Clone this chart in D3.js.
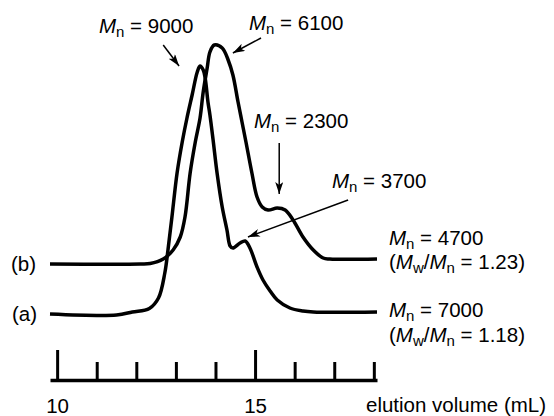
<!DOCTYPE html>
<html>
<head>
<meta charset="utf-8">
<script src="https://cdn.jsdelivr.net/npm/d3@7"></script>
<style>
  body { margin: 0; background: #fff; }
  svg { display: block; }
  text { font-family: "Liberation Sans", Arial, Helvetica, sans-serif; fill: #000; }
</style>
</head>
<body>
<svg></svg>
<script>
// elution volume (mL) vs detector signal (a.u., peak of (a) ~ 100)
const traceA = [
  [9.82, 0], [11.5, -0.4], [11.9, 0.8], [12.33, 2.2], [12.56, 6.4], [12.72, 16.4],
  [12.8, 25.6], [12.9, 38.8], [13.03, 56.4], [13.16, 68.8], [13.28, 78.4], [13.41, 87.6],
  [13.54, 96.8], [13.61, 99.2], [13.69, 97.6], [13.74, 94.4], [13.81, 84.8], [13.86, 79.6],
  [13.94, 69.6], [14.04, 56.4], [14.17, 42.8], [14.29, 33.6], [14.37, 27.2], [14.44, 26.4],
  [14.62, 28.4], [14.75, 29.2], [14.87, 26.4], [15.05, 18.8], [15.2, 13.6], [15.38, 9.2],
  [15.56, 5.6], [15.88, 2.4], [16.21, 1.2], [16.47, 0.8], [18.08, 0.8]
];
const traceB = [
  [9.82, 0], [12.1, 0], [12.35, 0.2], [12.68, 2], [12.93, 5.6], [13.11, 10.8],
  [13.23, 18.8], [13.36, 36.4], [13.49, 48.8], [13.61, 58.4], [13.69, 68.8], [13.79, 78.4],
  [13.86, 84.8], [13.97, 87.6], [14.17, 86.4], [14.32, 81.6], [14.44, 75.6], [14.57, 64.8],
  [14.67, 56.8], [14.77, 48.8], [14.92, 36.4], [15.05, 26.8], [15.18, 22.8], [15.33, 21.6],
  [15.56, 22.4], [15.76, 21.6], [15.96, 17.6], [16.21, 10.8], [16.47, 5.6], [16.72, 2.4],
  [16.89, 2], [18.08, 2]
];
const offsetA = 26.4;
const offsetB = 46.4;

const tickValues = [10, 11, 12, 13, 14, 15, 16, 17, 18];
const tickLabels = { 10: '10', 15: '15' };
const xTitle = 'elution volume (mL)';

// arrows: [tail mL, tail signal], [tip mL, tip signal] (signal incl. offsets)
const arrows = [
  { label: '9000', from: [12.68, 134], to: [13.08, 125.6] },
  { label: '6100', from: [15.15, 136.8], to: [14.44, 130.8] },
  { label: '2300', from: [15.61, 94.8], to: [15.61, 74.4] },
  { label: '3700', from: [17.35, 72], to: [14.82, 57.2] }
];

const width = 554;
const height = 416;
const fs = 20.5;

const svg = d3.select('svg')
  .attr('width', width)
  .attr('height', height);

const x = d3.scaleLinear().domain([9.82, 18.08]).range([50, 377]);
const y = d3.scaleLinear().domain([0, 152]).range([380, 0]);

svg.append('defs').append('marker')
  .attr('id', 'head')
  .attr('viewBox', '0 0 12 8')
  .attr('refX', 12)
  .attr('refY', 4)
  .attr('markerWidth', 12)
  .attr('markerHeight', 8)
  .attr('markerUnits', 'userSpaceOnUse')
  .attr('orient', 'auto')
  .append('path')
  .attr('d', 'M0,0 L12,4 L0,8 L3,4 Z')
  .attr('fill', '#000');

const line = (offset) => d3.line()
  .x(d => x(d[0]))
  .y(d => y(d[1] + offset))
  .curve(d3.curveCatmullRom.alpha(0.5));

svg.append('path')
  .datum(traceA)
  .attr('fill', 'none')
  .attr('stroke', '#000')
  .attr('stroke-width', 3.5)
  .attr('stroke-linejoin', 'round')
  .attr('d', line(offsetA));

svg.append('path')
  .datum(traceB)
  .attr('fill', 'none')
  .attr('stroke', '#000')
  .attr('stroke-width', 3.5)
  .attr('stroke-linejoin', 'round')
  .attr('d', line(offsetB));

// axis
const axis = svg.append('g')
  .attr('transform', `translate(0,${y(0)})`)
  .call(d3.axisBottom(x)
    .tickValues(tickValues)
    .tickSize(-18)
    .tickSizeOuter(0)
    .tickFormat(d => tickLabels[d] || ''));

axis.select('.domain').attr('stroke-width', 3.5);
axis.selectAll('.tick line')
  .attr('stroke-width', 3)
  .attr('y2', d => tickLabels[d] ? -30 : -18);
axis.selectAll('.tick text')
  .attr('y', 33)
  .attr('dy', 0)
  .attr('font-size', fs)
  .attr('font-family', null);

svg.append('text')
  .attr('x', 366)
  .attr('y', 412)
  .attr('font-size', fs)
  .text(xTitle);

// arrows
svg.selectAll('.arrow')
  .data(arrows)
  .enter().append('line')
  .attr('class', 'arrow')
  .attr('x1', d => x(d.from[0]))
  .attr('y1', d => y(d.from[1]))
  .attr('x2', d => x(d.to[0]))
  .attr('y2', d => y(d.to[1]))
  .attr('stroke', '#000')
  .attr('stroke-width', 1.5)
  .attr('marker-end', 'url(#head)');

function mn(sel, value) {
  sel.append('tspan').attr('font-style', 'italic').text('M');
  sel.append('tspan').attr('font-size', 15).attr('dy', 4).text('n');
  sel.append('tspan').attr('dy', -4).text(' = ' + value);
}

function ratio(sel, value) {
  sel.append('tspan').text('(');
  sel.append('tspan').attr('font-style', 'italic').text('M');
  sel.append('tspan').attr('font-size', 15).attr('dy', 4).text('w');
  sel.append('tspan').attr('dy', -4).text('/');
  sel.append('tspan').attr('font-style', 'italic').text('M');
  sel.append('tspan').attr('font-size', 15).attr('dy', 4).text('n');
  sel.append('tspan').attr('dy', -4).text(' = ' + value + ')');
}

const peakLabels = [
  { value: '9000', x: 99, y: 33 },
  { value: '6100', x: 249, y: 30 },
  { value: '2300', x: 254, y: 128 },
  { value: '3700', x: 332, y: 188 },
  { value: '4700', x: 389, y: 245 },
  { value: '7000', x: 389, y: 317 }
];

peakLabels.forEach(p => {
  svg.append('text')
    .attr('x', p.x)
    .attr('y', p.y)
    .attr('font-size', fs)
    .call(mn, p.value);
});

const ratios = [
  { value: '1.23', y: 269 },
  { value: '1.18', y: 342 }
];
ratios.forEach(r => {
  svg.append('text')
    .attr('x', 389)
    .attr('y', r.y)
    .attr('font-size', fs)
    .call(ratio, r.value);
});

svg.append('text').attr('x', 11).attr('y', y(offsetB) + 7).attr('font-size', fs).text('(b)');
svg.append('text').attr('x', 12).attr('y', y(offsetA) + 7).attr('font-size', fs).text('(a)');
</script>
</body>
</html>
